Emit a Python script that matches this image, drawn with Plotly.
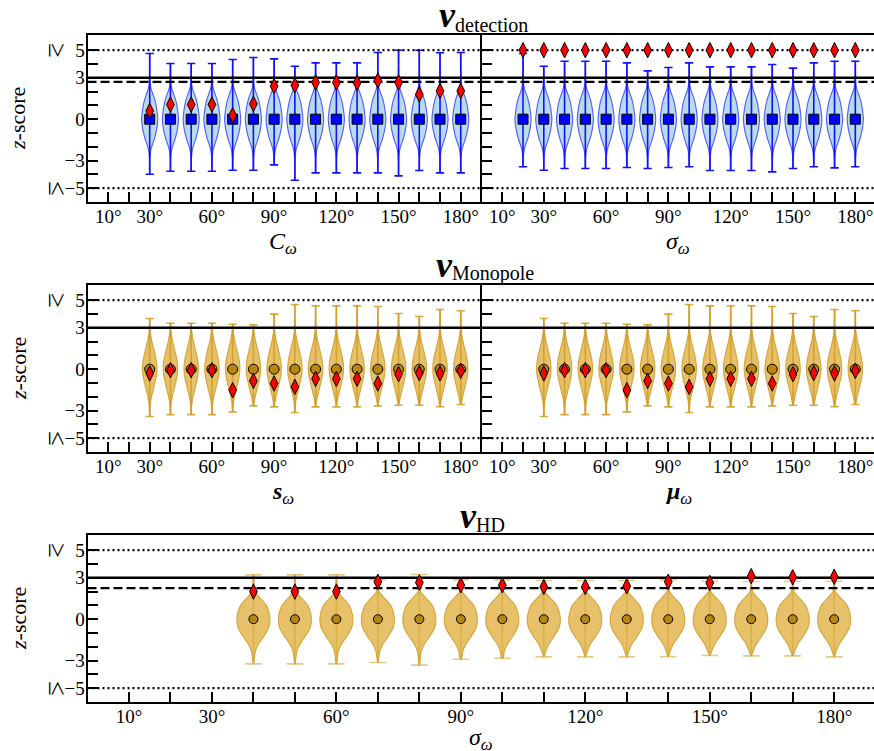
import plotly.graph_objects as go

FIG_W, FIG_H = 874, 751
FONT = "Liberation Serif"

# ---- angular grid (degrees) ----
ANG_30 = [30, 40, 50, 60, 70, 80, 90, 100, 110, 120, 130, 140, 150, 160, 170, 180]
ANG_20 = [20] + ANG_30
ANG_40 = ANG_30[1:]

X_TICKS = list(range(10, 190, 10))
X_LABELED = [10, 30, 60, 90, 120, 150, 180]
Z_TICKS = list(range(-5, 6))
Z_LABELS = {-5: "\u22125", -3: "\u22123", 0: "0", 3: "3", 5: "5"}

# ---- detection statistic: scan over C_omega ----
det_c_hi = [4.76, 4.03, 4.03, 4.03, 4.32, 4.47, 4.37, 3.84, 4.08, 4.08, 4.08, 4.83, 5.00, 5.00, 4.81, 4.83]
det_c_lo = [-3.99, -3.77, -3.77, -3.77, -3.70, -3.70, -3.31, -4.42, -3.89, -3.89, -3.89, -3.89, -4.11, -3.72, -3.89, -3.89]
det_c_med = [0.0] * 16
det_c_obs = [0.60, 1.06, 1.06, 1.06, 0.29, 1.11, 2.39, 2.46, 2.66, 2.66, 2.63, 2.80, 2.66, 1.79, 2.05, 2.05]

# ---- detection statistic: scan over sigma_omega (observed clipped at >=5) ----
det_s_hi = [4.76, 3.84, 4.20, 4.20, 4.20, 4.08, 3.50, 3.74, 4.08, 3.79, 3.79, 3.79, 3.96, 3.70, 4.08, 4.20, 4.20]
det_s_lo = [-3.45, -3.70, -3.57, -3.57, -3.57, -3.50, -3.57, -3.50, -3.45, -3.72, -3.72, -3.72, -3.82, -3.57, -3.45, -3.53, -3.45]
det_s_med = [0.0] * 17
det_s_obs = [5.0] * 17

# ---- monopole statistic: scan over s_omega ----
mono_s_hi = [3.67, 3.33, 3.33, 3.33, 3.26, 3.21, 3.99, 4.69, 4.59, 4.59, 4.59, 4.54, 4.03, 3.82, 4.32, 4.23]
mono_s_lo = [-3.43, -3.29, -3.29, -3.29, -3.09, -2.66, -2.73, -3.14, -2.73, -2.73, -2.73, -2.66, -2.61, -2.61, -2.71, -2.56]
mono_s_med = [0.0] * 16
mono_s_obs = [-0.31, -0.07, -0.07, -0.07, -1.52, -0.85, -1.04, -1.28, -0.70, -0.70, -0.70, -1.04, -0.36, -0.29, -0.31, -0.12]

# ---- monopole statistic: scan over mu_omega ----
mono_m_hi = [3.67, 3.33, 3.33, 3.33, 3.26, 3.21, 3.99, 4.69, 4.59, 4.59, 4.59, 4.54, 4.03, 3.82, 4.32, 4.23]
mono_m_lo = [-3.43, -3.29, -3.29, -3.29, -3.09, -2.66, -2.73, -3.14, -2.73, -2.73, -2.73, -2.66, -2.61, -2.61, -2.71, -2.56]
mono_m_med = [0.0] * 16
mono_m_obs = [-0.31, -0.07, -0.07, -0.07, -1.52, -0.85, -1.04, -1.28, -0.70, -0.70, -0.70, -1.04, -0.36, -0.29, -0.31, -0.12]

# ---- HD statistic: scan over sigma_omega ----
hd_hi = [3.21, 3.21, 3.21, 2.87, 3.24, 2.85, 2.85, 2.80, 2.80, 2.80, 2.85, 2.75, 2.73, 2.75, 2.75]
hd_lo = [-3.24, -3.24, -3.24, -3.14, -3.33, -2.90, -2.83, -2.73, -2.73, -2.73, -2.71, -2.63, -2.66, -2.66, -2.73]
hd_med = [0.0] * 15
hd_obs = [2.00, 2.00, 2.00, 2.71, 2.66, 2.46, 2.46, 2.34, 2.34, 2.39, 2.71, 2.63, 3.12, 3.04, 3.07]

# ---- reference levels ----
SIGMA_LINE = 3.0
CLIP_LEVEL = 5.0
DET_DASHED = 2.7
HD_DASHED = 2.25

# ---- violin body half-widths (degrees) vs z ----
BLUE_Z = [4.0, 3.0, 2.5, 2.2, 1.8, 1.4, 1.0, 0.5, 0.0, -0.5, -1.0, -1.4, -1.8, -2.2, -2.6, -3.0, -4.0]
BLUE_W = [0.08, 0.15, 0.3, 0.7, 1.6, 2.5, 3.1, 3.6, 3.9, 3.6, 3.0, 2.3, 1.4, 0.6, 0.25, 0.12, 0.08]
GOLD_Z = [4.5, 3.5, 2.8, 2.4, 2.0, 1.5, 1.0, 0.5, 0.0, -0.5, -1.0, -1.5, -2.0, -2.4, -2.8, -3.5]
GOLD_W = [0.08, 0.12, 0.25, 0.6, 1.1, 1.9, 2.7, 3.3, 3.5, 3.2, 2.5, 1.7, 0.9, 0.4, 0.2, 0.1]
HD_Z = [3.3, 2.4, 2.0, 1.8, 1.5, 1.0, 0.5, 0.0, -0.6, -1.2, -1.8, -2.3, -2.8, -3.4]
HD_W = [0.1, 0.15, 0.3, 0.8, 1.7, 3.1, 3.75, 4.0, 3.7, 2.6, 1.25, 0.5, 0.25, 0.12]

END_W = 0.05
CAP_HALF = 2.0

BLUE = dict(fill="rgba(173,216,230,0.9)", edge="rgba(40,40,255,0.75)", whisk="#1010ff",
            whisk_w=1.6, med_color="#0000ff", med_symbol="square", med_size=10)
GOLD = dict(fill="rgba(228,186,90,0.9)", edge="rgba(205,150,30,0.8)", whisk="rgba(210,155,30,0.85)",
            whisk_w=1.6, med_color="#b8860b", med_symbol="circle", med_size=10)
GOLD_HD = dict(GOLD, whisk="rgba(215,165,50,0.6)", med_size=9)

panels = [
    dict(ax="", x=ANG_30, hi=det_c_hi, lo=det_c_lo, med=det_c_med, obs=det_c_obs,
         prof=(BLUE_Z, BLUE_W), sty=BLUE, dashed=DET_DASHED,
         xdom=[87.5, 481.5], xmax=190.0, ydom=[35, 202], labels=True),
    dict(ax="2", x=ANG_20, hi=det_s_hi, lo=det_s_lo, med=det_s_med, obs=det_s_obs,
         prof=(BLUE_Z, BLUE_W), sty=BLUE, dashed=DET_DASHED,
         xdom=[481.5, 874], xmax=189.0, ydom=[35, 202], labels=False),
    dict(ax="3", x=ANG_30, hi=mono_s_hi, lo=mono_s_lo, med=mono_s_med, obs=mono_s_obs,
         prof=(GOLD_Z, GOLD_W), sty=GOLD, dashed=None,
         xdom=[87.5, 481.5], xmax=190.0, ydom=[285, 452], labels=True),
    dict(ax="4", x=ANG_30, hi=mono_m_hi, lo=mono_m_lo, med=mono_m_med, obs=mono_m_obs,
         prof=(GOLD_Z, GOLD_W), sty=GOLD, dashed=None,
         xdom=[481.5, 874], xmax=189.0, ydom=[285, 452], labels=False),
    dict(ax="5", x=ANG_40, hi=hd_hi, lo=hd_lo, med=hd_med, obs=hd_obs,
         prof=(HD_Z, HD_W), sty=GOLD_HD, dashed=HD_DASHED,
         xdom=[87.5, 874], xmax=189.6, ydom=[535, 702], labels=True),
]

Z_RANGE = [-6.0, 6.1]


def violin_rings(centers, lo, hi, prof_z, prof_w):
    xs, ys = [], []
    for c, l, h in zip(centers, lo, hi):
        pts = [(h, END_W)] + [(z, w) for z, w in zip(prof_z, prof_w) if l < z < h] + [(l, END_W)]
        ring = [(c + w, z) for z, w in pts] + [(c - w, z) for z, w in reversed(pts)]
        ring.append(ring[0])
        xs += [p[0] for p in ring] + [None]
        ys += [p[1] for p in ring] + [None]
    return xs, ys


def whiskers(centers, lo, hi):
    xs, ys = [], []
    for c, l, h in zip(centers, lo, hi):
        xs += [c, c, None, c - CAP_HALF, c + CAP_HALF, None, c - CAP_HALF, c + CAP_HALF, None]
        ys += [l, h, None, l, l, None, h, h, None]
    return xs, ys


fig = go.Figure()
layout = {}

for p in panels:
    xa, ya = "x" + p["ax"], "y" + p["ax"]
    sty = p["sty"]
    vx, vy = violin_rings(p["x"], p["lo"], p["hi"], *p["prof"])
    fig.add_trace(go.Scatter(x=vx, y=vy, xaxis=xa, yaxis=ya, mode="lines", fill="toself",
                             fillcolor=sty["fill"], line=dict(color=sty["edge"], width=1.1, shape="spline", smoothing=0.8),
                             hoverinfo="skip", showlegend=False))
    wx, wy = whiskers(p["x"], p["lo"], p["hi"])
    fig.add_trace(go.Scatter(x=wx, y=wy, xaxis=xa, yaxis=ya, mode="lines",
                             line=dict(color=sty["whisk"], width=sty["whisk_w"]),
                             hoverinfo="skip", showlegend=False))
    x0, x1 = 0.0, p["xmax"]
    # reference levels
    levels = [(CLIP_LEVEL, "2px,3px", 2.2), (-CLIP_LEVEL, "2px,3px", 2.2), (SIGMA_LINE, "solid", 2.4)]
    if p["dashed"] is not None:
        levels.append((p["dashed"], "9px,4px", 2.2))
    for level, dash, width in levels:
        fig.add_trace(go.Scatter(x=[x0, x1], y=[level, level], xaxis=xa, yaxis=ya, mode="lines",
                                 line=dict(color="black", width=width, dash=dash),
                                 hoverinfo="skip", showlegend=False))
    fig.add_trace(go.Scatter(x=p["x"], y=p["med"], xaxis=xa, yaxis=ya, mode="markers",
                             marker=dict(symbol=sty["med_symbol"], size=sty["med_size"], color=sty["med_color"],
                                         line=dict(color="black", width=1)),
                             showlegend=False))
    fig.add_trace(go.Scatter(x=p["x"], y=p["obs"], xaxis=xa, yaxis=ya, mode="markers",
                             marker=dict(symbol="diamond-tall", size=11, color="#ff0000",
                                         line=dict(color="black", width=1)),
                             showlegend=False))

    layout["xaxis" + p["ax"]] = dict(
        domain=[p["xdom"][0] / FIG_W, p["xdom"][1] / FIG_W], range=[x0, x1], anchor=ya,
        tickvals=X_TICKS, ticktext=[f"{v}\u00b0" if v in X_LABELED else "" for v in X_TICKS],
        ticks="inside", ticklen=10, tickwidth=2, tickcolor="black", ticklabelstandoff=-4,
        showline=True, linewidth=2, linecolor="black", mirror=True,
        showgrid=False, zeroline=False, tickfont=dict(family=FONT, size=19, color="black"))
    layout["yaxis" + p["ax"]] = dict(
        domain=[1 - p["ydom"][1] / FIG_H, 1 - p["ydom"][0] / FIG_H], range=Z_RANGE, anchor=xa,
        tickvals=Z_TICKS, ticktext=[Z_LABELS.get(v, "") for v in Z_TICKS], showticklabels=p["labels"],
        ticks="inside", ticklen=10, tickwidth=2, tickcolor="black", ticklabelstandoff=-3,
        showline=True, linewidth=2, linecolor="black", mirror=False,
        showgrid=False, zeroline=False, tickfont=dict(family=FONT, size=19, color="black"))

annotations = []


def text(x_px, y_px, s, size, angle=0, yref="paper", y_val=None, xanchor="center"):
    annotations.append(dict(
        x=x_px / FIG_W, xref="paper",
        y=(1 - y_px / FIG_H) if yref == "paper" else y_val, yref=yref,
        text=s, showarrow=False, textangle=angle, xanchor=xanchor, yanchor="middle",
        font=dict(family=FONT, size=size, color="black")))


NU = "<b><i>\u03bd</i></b>"

# row titles: large nu followed by a lowered label
for x_join, y_nu, y_sub, label in [(457, 15, 25, "detection"),
                                    (454, 265, 273, "Monopole"),
                                    (478, 516, 525, "HD")]:
    text(x_join + 1, y_nu, NU, 36, xanchor="right")
    text(x_join - 4, y_sub, label, 20, xanchor="left")

# axis titles
text(283, 243, "<i>C</i><sub><i>\u03c9</i></sub>", 24)
text(678, 243, "<i>\u03c3</i><sub><i>\u03c9</i></sub>", 24)
text(283, 493, "<b><i>s</i></b><sub><i>\u03c9</i></sub>", 24)
text(678, 493, "<b><i>\u03bc</i></b><sub><i>\u03c9</i></sub>", 24)
text(481, 739, "<i>\u03c3</i><sub><i>\u03c9</i></sub>", 24)

for ax, yc in [("y", 119), ("y3", 369), ("y5", 619)]:
    text(18, yc, "<i>z</i>-score", 22, angle=-90)
    text(58, 0, "\u2265", 26, angle=90, yref=ax, y_val=CLIP_LEVEL)
    text(58, 0, "\u2264", 26, angle=90, yref=ax, y_val=-CLIP_LEVEL)

fig.update_layout(
    width=FIG_W, height=FIG_H, margin=dict(l=0, r=0, t=0, b=0),
    paper_bgcolor="white", plot_bgcolor="white",
    annotations=annotations, font=dict(family=FONT, color="black"),
    **layout)

fig.write_html("out.html")
